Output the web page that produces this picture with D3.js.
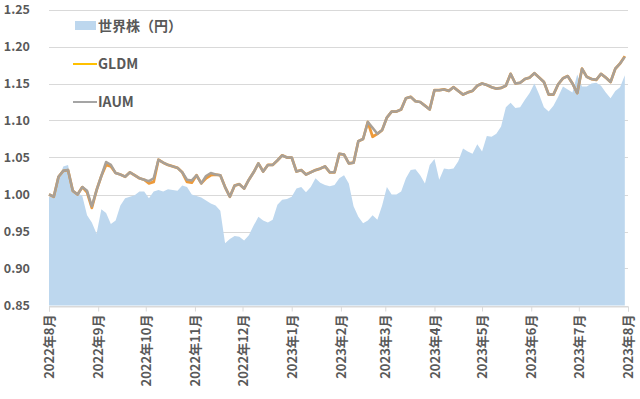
<!DOCTYPE html>
<html>
<head>
<meta charset="utf-8">
<script src="https://cdn.jsdelivr.net/npm/d3@7"></script>
<style>
  body { margin: 0; background: #fff; }
  svg text { font-family: "Noto Sans CJK JP", "Noto Sans", sans-serif; fill: #595959; font-weight: bold; }
</style>
</head>
<body>
<svg id="chart" width="640" height="399"></svg>
<script>
// sampled every 3 days from 2022-08-01
const dates = d3.timeDay.range(new Date(2022, 7, 1), new Date(2023, 7, 2), 3);

const world = [
  0.997, 0.997, 1.020, 1.038, 1.040, 1.005, 1.002, 0.998, 0.972, 0.962,
  0.947, 0.980, 0.975, 0.960, 0.965, 0.985, 0.995, 0.997, 0.999, 1.004,
  1.004, 0.995, 1.004, 1.006, 1.004, 1.007, 1.006, 1.005, 1.012, 1.010,
  1.000, 0.998, 0.996, 0.992, 0.988, 0.985, 0.978, 0.934, 0.940, 0.944,
  0.943, 0.938, 0.945, 0.958, 0.970, 0.965, 0.962, 0.966, 0.986, 0.993,
  0.994, 0.997, 1.008, 1.010, 1.003, 1.010, 1.022, 1.016, 1.013, 1.011,
  1.013, 1.022, 1.026, 1.015, 0.984, 0.970, 0.961, 0.965, 0.972, 0.966,
  0.985, 1.010, 1.000, 1.000, 1.004, 1.022, 1.033, 1.034, 1.026, 1.015,
  1.040, 1.048, 1.020, 1.035, 1.034, 1.035, 1.045, 1.062, 1.058, 1.055,
  1.068, 1.058, 1.079, 1.078, 1.082, 1.092, 1.118, 1.124, 1.117, 1.118,
  1.128, 1.137, 1.150, 1.135, 1.118, 1.112, 1.120, 1.132, 1.146, 1.142,
  1.138, 1.162, 1.146, 1.146, 1.150, 1.151, 1.147, 1.138, 1.130, 1.140,
  1.145, 1.161
];

const gldm = [
  1.000, 0.997, 1.024, 1.032, 1.033, 1.005, 1.000, 1.010, 1.003, 0.982,
  1.006, 1.025, 1.040, 1.038, 1.029, 1.027, 1.024, 1.030, 1.026, 1.022,
  1.020, 1.015, 1.017, 1.047, 1.043, 1.040, 1.038, 1.036, 1.030, 1.017,
  1.016, 1.026, 1.015, 1.022, 1.026, 1.027, 1.026, 1.010, 0.997, 1.012,
  1.014, 1.008, 1.020, 1.030, 1.042, 1.031, 1.040, 1.040, 1.046, 1.053,
  1.050, 1.050, 1.031, 1.033, 1.027, 1.030, 1.033, 1.035, 1.038, 1.030,
  1.030, 1.055, 1.054, 1.042, 1.043, 1.072, 1.075, 1.098, 1.078, 1.082,
  1.087, 1.104, 1.112, 1.112, 1.115, 1.130, 1.132, 1.126, 1.125, 1.120,
  1.115, 1.141, 1.141, 1.142, 1.140, 1.145, 1.140, 1.135, 1.138, 1.140,
  1.147, 1.150, 1.148, 1.145, 1.143, 1.144, 1.147, 1.163, 1.150, 1.151,
  1.156, 1.158, 1.164, 1.158, 1.152, 1.135, 1.135, 1.149, 1.157, 1.160,
  1.150, 1.137, 1.170, 1.159, 1.156, 1.155, 1.163, 1.158, 1.152, 1.170,
  1.177, 1.187
];

const iaum = [
  1.000, 0.997, 1.024, 1.032, 1.033, 1.005, 1.000, 1.010, 1.005, 0.984,
  1.006, 1.025, 1.044, 1.040, 1.029, 1.027, 1.024, 1.030, 1.026, 1.022,
  1.020, 1.018, 1.022, 1.047, 1.043, 1.040, 1.038, 1.036, 1.030, 1.020,
  1.019, 1.026, 1.015, 1.025, 1.029, 1.027, 1.026, 1.010, 0.997, 1.012,
  1.014, 1.008, 1.020, 1.030, 1.042, 1.031, 1.040, 1.040, 1.046, 1.053,
  1.050, 1.050, 1.031, 1.033, 1.027, 1.030, 1.033, 1.035, 1.038, 1.030,
  1.030, 1.055, 1.054, 1.042, 1.043, 1.072, 1.075, 1.098, 1.090, 1.082,
  1.087, 1.104, 1.112, 1.112, 1.115, 1.130, 1.132, 1.126, 1.125, 1.120,
  1.115, 1.141, 1.141, 1.142, 1.140, 1.145, 1.140, 1.135, 1.138, 1.140,
  1.147, 1.150, 1.148, 1.145, 1.143, 1.144, 1.147, 1.163, 1.150, 1.151,
  1.156, 1.158, 1.164, 1.158, 1.152, 1.135, 1.135, 1.149, 1.157, 1.160,
  1.150, 1.137, 1.170, 1.159, 1.156, 1.155, 1.163, 1.158, 1.152, 1.170,
  1.177, 1.186
];

const yTicks = [0.85, 0.90, 0.95, 1.00, 1.05, 1.10, 1.15, 1.20, 1.25];
const monthTicks = d3.timeMonth.range(new Date(2022, 7, 1), new Date(2023, 7, 2));
const legendItems = [
  { name: "世界株（円）", type: "area", color: "#bdd7ee" },
  { name: "GLDM", type: "line", color: "#ffc000" },
  { name: "IAUM", type: "line", color: "#a5a5a5" }
];

const svg = d3.select("#chart");
const margin = { top: 9.5, right: 12, bottom: 93.5, left: 49 };
const width = 640, height = 399;

const x = d3.scaleTime()
  .domain([new Date(2022, 7, 1), new Date(2023, 7, 1)])
  .range([margin.left, width - margin.right]);
const y = d3.scaleLinear()
  .domain([0.85, 1.25])
  .range([height - margin.bottom, margin.top]);

// gridlines
svg.append("g")
  .selectAll("line")
  .data(yTicks)
  .join("line")
  .attr("x1", margin.left)
  .attr("x2", width - margin.right)
  .attr("y1", d => Math.round(y(d)) + 0.5)
  .attr("y2", d => Math.round(y(d)) + 0.5)
  .attr("stroke", "#d9d9d9")
  .attr("stroke-width", 1);

// area
const area = d3.area()
  .x((d, i) => x(dates[i]))
  .y0(y(0.85))
  .y1(d => y(d));
svg.append("path")
  .datum(world)
  .attr("d", area)
  .attr("fill", "#bdd7ee");

// lines, GLDM under IAUM
const line = d3.line()
  .x((d, i) => x(dates[i]))
  .y(d => y(d));
svg.append("path")
  .datum(gldm)
  .attr("d", line)
  .attr("fill", "none")
  .attr("stroke", "#ed9a3a")
  .attr("stroke-width", 2.75)
  .attr("stroke-linejoin", "round");
svg.append("path")
  .datum(iaum)
  .attr("d", line)
  .attr("fill", "none")
  .attr("stroke", "#a8a097")
  .attr("stroke-width", 2.5)
  .attr("stroke-linejoin", "round");

// y axis labels
svg.append("g")
  .selectAll("text")
  .data(yTicks)
  .join("text")
  .attr("x", 30)
  .attr("y", d => y(d) + 4.5)
  .attr("text-anchor", "end")
  .style("font-size", "12.5px")
  .text(d => d.toFixed(2));

// x axis
const xAxis = svg.append("g")
  .attr("transform", `translate(0,${Math.round(y(0.85)) + 0.5})`)
  .call(d3.axisBottom(x)
    .tickValues(monthTicks)
    .tickSize(5)
    .tickFormat(d => `${d.getFullYear()}年${d.getMonth() + 1}月`));
xAxis.select(".domain").attr("stroke", "#d9d9d9");
xAxis.selectAll(".tick line").attr("stroke", "#d9d9d9");
xAxis.selectAll(".tick text")
  .attr("transform", "rotate(-90)")
  .attr("x", -8)
  .attr("y", 0)
  .attr("dy", "0.35em")
  .attr("text-anchor", "end")
  .style("font-size", "13px")
  .style("font-family", "\"Noto Sans CJK JP\", sans-serif")
  .style("font-weight", "bold")
  .attr("fill", "#595959");

// legend
const legend = svg.append("g");
legendItems.forEach((d, i) => {
  const ly = 26 + i * 38;
  if (d.type === "area") {
    legend.append("rect")
      .attr("x", 75).attr("y", ly - 5)
      .attr("width", 21).attr("height", 9)
      .attr("fill", d.color);
  } else {
    legend.append("line")
      .attr("x1", 73).attr("x2", 97)
      .attr("y1", ly).attr("y2", ly)
      .attr("stroke", d.color)
      .attr("stroke-width", 2);
  }
  legend.append("text")
    .attr("x", 98)
    .attr("y", ly + 5)
    .style("font-size", "14px")
    .text(d.name);
});
</script>
</body>
</html>
